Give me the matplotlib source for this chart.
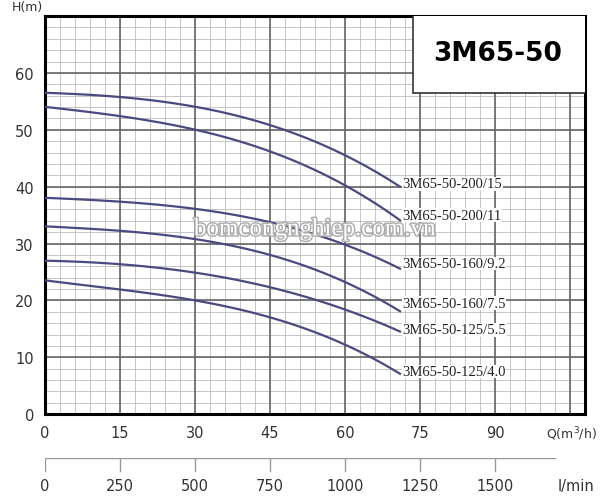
import matplotlib
matplotlib.use("Agg")
import matplotlib.pyplot as plt
import matplotlib.patheffects as pe
from matplotlib.patches import Rectangle
import numpy as np

q = [0, 15, 30, 48, 60, 71]
names = ["3M65-50-200/15", "3M65-50-200/11", "3M65-50-160/9.2",
         "3M65-50-160/7.5", "3M65-50-125/5.5", "3M65-50-125/4.0"]
heads = [
    [56.5, 55.8, 54.0, 50.0, 45.5, 40.0],
    [54.0, 52.5, 50.0, 45.0, 40.5, 34.0],
    [38.0, 37.5, 36.0, 33.0, 30.0, 25.5],
    [33.0, 32.3, 30.8, 27.0, 23.5, 18.0],
    [27.0, 26.3, 25.0, 21.5, 18.5, 14.5],
    [23.5, 22.0, 20.0, 16.0, 12.5, 7.0],
]
label_y = [40.5, 35.0, 26.5, 19.5, 14.8, 7.5]
q_ticks = [0, 15, 30, 45, 60, 75, 90]
h_ticks = [0, 10, 20, 30, 40, 50, 60]
lmin_ticks = [0, 250, 500, 750, 1000, 1250, 1500]

fig = plt.figure(figsize=(6, 5.02), dpi=100)
ax = fig.add_axes([0.075, 0.173, 0.9, 0.793])
ax.set_xlim(0, 108)
ax.set_ylim(0, 70)
for x in np.arange(0, 108.1, 3):
    ax.axvline(x, color="#bbbbbb", lw=0.6, zorder=0)
for y in np.arange(0, 70.1, 2):
    ax.axhline(y, color="#bbbbbb", lw=0.6, zorder=0)
for x in np.arange(0, 108.1, 15):
    ax.axvline(x, color="#666666", lw=1.2, zorder=1)
for y in range(0, 71, 10):
    ax.axhline(y, color="#666666", lw=1.2, zorder=1)
ax.set_xticks(q_ticks)
ax.set_yticks(h_ticks)
ax.tick_params(length=0, labelsize=10.5, colors="#333333", pad=8)
for s in ax.spines.values():
    s.set_linewidth(2.2)

for n, h, ly in zip(names, heads, label_y):
    qq = np.linspace(0, 71, 100)
    coef = np.polyfit(q, h, 3)
    ax.plot(qq, np.polyval(coef, qq), color="#4a4a80", lw=1.6, zorder=3)
    ax.text(71.5, ly, n, fontsize=10.5, family="Liberation Serif", va="center",
            color="#222222", bbox=dict(fc="white", ec="none", pad=0.3), zorder=4)

ax.add_patch(Rectangle((73.5, 56.5), 40, 20, fc="white", ec="#333333", lw=1.2, zorder=6))
ax.text(90.5, 63.5, "3M65-50", fontsize=19, fontweight="bold", ha="center",
        va="center", zorder=7)
ax.text(54, 32.5, "bomcongnghiep.com.vn", fontsize=18, family="Liberation Serif",
        ha="center", va="center", color="white", zorder=5,
        path_effects=[pe.withStroke(linewidth=2, foreground="#aaaaaa")])

fig.text(0.045, 0.985, "H(m)", fontsize=9, ha="center", va="center", color="#333333")
fig.text(0.995, 0.135, "Q(m$^3$/h)", fontsize=9, ha="right", va="center", color="#333333")

ax2 = fig.add_axes([0.075, 0.03, 0.9, 0.055])
ax2.set_xlim(0, 108 / 0.06)
ax2.set_ylim(0, 1)
ax2.axis("off")
ax2.plot([0, 1700], [1, 1], color="#999999", lw=1)
for t in lmin_ticks:
    ax2.plot([t, t], [1, 0.55], color="#999999", lw=1)
    ax2.text(t, 0.0, str(t), ha="center", va="center", fontsize=10.5, color="#333333")
fig.text(0.99, 0.03, "l/min", fontsize=10.5, ha="right", va="center", color="#333333")
fig.savefig("out.png")
